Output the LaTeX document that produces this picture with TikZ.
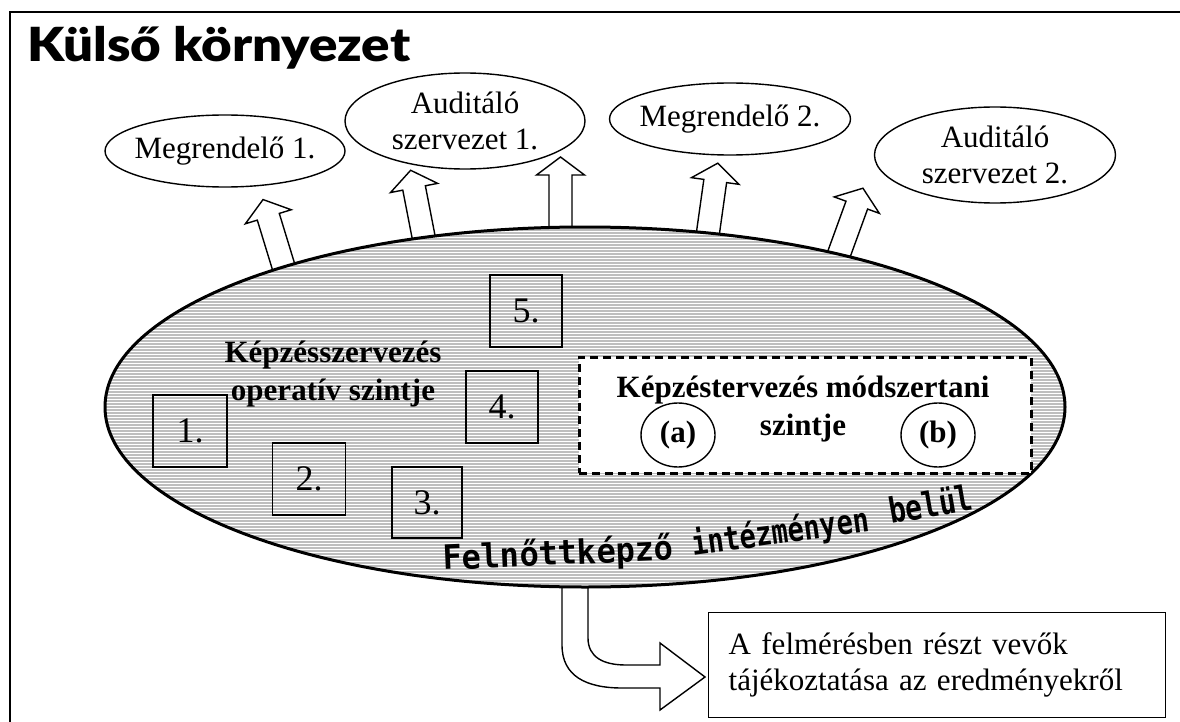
\documentclass[tikz,border=0pt]{standalone}
\usepackage{fontspec}
\setmainfont{Liberation Serif}
\IfFontExistsTF{Lato Black}{\newfontfamily\titlefont{Lato Black}}{%
  \IfFontExistsTF{Fira Sans Black}{\newfontfamily\titlefont{Fira Sans Black}}{%
    \newfontfamily\titlefont[FakeBold=1.5]{Liberation Sans Bold}}}
\newfontfamily\wordfont{DejaVu Sans Mono}
\usetikzlibrary{shapes.geometric}
\definecolor{stripegray}{RGB}{190,190,190}
\newcommand\blockarrow[2]{%
  \begin{scope}[shift={(#1)}, rotate=#2]
    \draw[barrow] (-11.5,12) -- (-11.5,-52) -- (-24,-52) -- (0,-70) -- (24,-52) -- (11.5,-52) -- (11.5,12);
  \end{scope}}
\tikzset{
  frameline/.style={line width=1.6pt},
  oval/.style={ellipse, draw, line width=1.4pt, fill=white, inner sep=0pt},
  txt/.style={font=\fontsize{31}{36}\selectfont, align=center, inner sep=0pt},
  btxt/.style={font=\fontsize{31}{38}\selectfont\bfseries, align=center, inner sep=0pt},
  numbox/.style={draw, line width=1.4pt, minimum width=72pt, minimum height=72pt, inner sep=0pt, font=\fontsize{36}{40}\selectfont},
  barrow/.style={draw, fill=white, line width=1.4pt, line join=miter},
  dbox/.style={draw, dash pattern=on 8pt off 5pt, line width=2.6pt, fill=white, inner sep=0pt},
  letterring/.style={ellipse, draw, line width=1.4pt, minimum width=74pt, minimum height=64pt, inner sep=0pt, font=\fontsize{31}{36}\selectfont\bfseries},
  infobox/.style={draw, line width=1.4pt, fill=white, minimum width=457pt, minimum height=105pt, inner xsep=20pt, text width=417pt, align=left, font=\fontsize{31}{36}\selectfont},
  wordart/.style={inner sep=0pt, anchor=base west}
}
\begin{document}
\begin{tikzpicture}[x=1pt,y=-1pt]
\useasboundingbox (0,0) rectangle (1180,722);
% frame
\draw[frameline] (10,740) -- (10,12) -- (1200,12);
% title
\node[anchor=base west, inner sep=0pt, font=\titlefont\fontsize{47}{50}\selectfont] (title) at (27,62) {\resizebox{383pt}{\height}{Külső környezet}};
% outer ellipses
\node[oval, minimum width=240pt, minimum height=72pt] (m1) at (225,151) {};
\node[txt] (m1t) at (m1.center) {Megrendelő 1.};
\node[oval, minimum width=240pt, minimum height=96pt] (a1) at (465,121) {};
\node[txt] (a1t) at (a1.center) {Auditáló\\szervezet 1.};
\node[oval, minimum width=241pt, minimum height=72pt] (m2) at (730,119) {};
\node[txt] (m2t) at (m2.center) {Megrendelő 2.};
\node[oval, minimum width=241pt, minimum height=96pt] (a2) at (995,155) {};
\node[txt] (a2t) at (a2.center) {Auditáló\\szervezet 2.};
% block arrows upward
\blockarrow{283.5,266.5}{17}
\blockarrow{424,239}{11}
\blockarrow{560.5,227}{0}
\blockarrow{708,232.5}{-8}
\blockarrow{839,254}{-20}
% bottom bent arrow
\draw[barrow] (562,575) -- (562,645) .. controls (562,676) and (586,688) .. (622,688) -- (660,688) -- (660,710) -- (705,677) -- (660,643) -- (660,665) -- (626,665) .. controls (603,665) and (588,657) .. (588,638) -- (588,575);
% main ellipse with stripes
\begin{scope}
  \clip (585,407) ellipse [x radius=480, y radius=180];
  \fill[stripegray] (100,222) rectangle (1070,592);
  \foreach \yy in {228,231,...,588} \draw[white, line width=1pt] (100,\yy) -- (1070,\yy);
\end{scope}
\node[ellipse, draw, line width=3pt, minimum width=960pt, minimum height=360pt, inner sep=0pt] (inst) at (585,407) {};
% numbered boxes
\node[numbox, minimum width=74pt] (n1) at (190,431) {1.};
\node[numbox, minimum width=73pt] (n2) at (309,479) {2.};
\node[numbox, minimum width=70pt, minimum height=71pt] (n3) at (427,502.5) {3.};
\node[numbox] (n4) at (502,407) {4.};
\node[numbox] (n5) at (526,311) {5.};
% operative level text
\node[btxt, anchor=base] (op1) at (333,362) {Képzésszervezés};
\node[btxt, anchor=base] (op2) at (333,400) {operatív szintje};
% methodological level box
\node[dbox, minimum width=452pt, minimum height=116pt, anchor=north west] (meth) at (578,356) {};
\node[btxt, anchor=base] (me1) at (803,397) {Képzéstervezés módszertani};
\node[btxt, anchor=base] (me2) at (803,435) {szintje};
\node[letterring] (ca) at (678,435) {(a)};
\node[letterring] (cb) at (938,435) {(b)};
% word art
\node[wordart, rotate=2.5, font=\wordfont\bfseries\fontsize{32}{34}\selectfont] (w1) at (443,570) {\scalebox{1}[1.05]{Felnőttképző}};
\node[wordart, rotate=8, font=\wordfont\bfseries\fontsize{27}{30}\selectfont] (w2) at (693,556) {\scalebox{1}[1.25]{intézményen}};
\node[wordart, rotate=10, font=\wordfont\bfseries\fontsize{28}{30}\selectfont] (w3) at (891,524) {\scalebox{1}[1.25]{belül}};
% info box
\node[infobox, anchor=north west] (info) at (708,612) {A felmérésben részt vevők\\tájékoztatása az eredményekről};
\end{tikzpicture}
\end{document}
